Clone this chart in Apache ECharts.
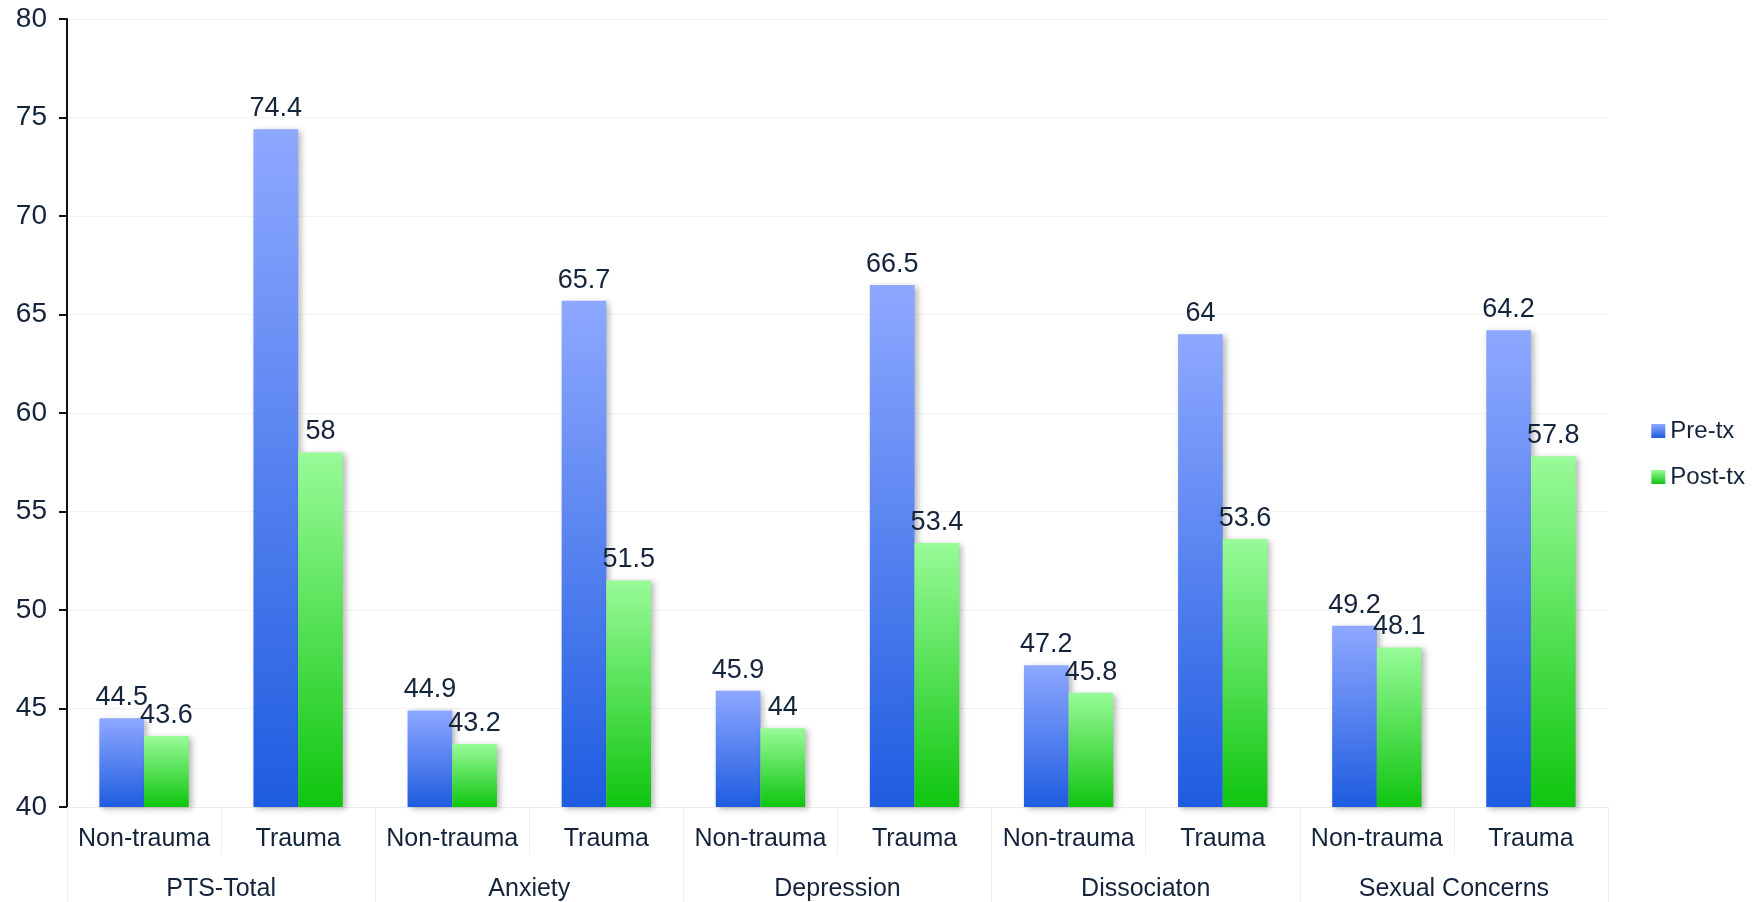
<!DOCTYPE html>
<html><head><meta charset="utf-8">
<script src="https://cdn.jsdelivr.net/npm/echarts@6/dist/echarts.min.js"></script>
<style>html,body{margin:0;padding:0;background:#fff}#c{width:1762px;height:902px}</style>
</head><body><div id="c"></div>
<script>
const subCategories = ["Non-trauma","Trauma","Non-trauma","Trauma","Non-trauma","Trauma","Non-trauma","Trauma","Non-trauma","Trauma"];
const groups = ["PTS-Total","Anxiety","Depression","Dissociaton","Sexual Concerns"];
const preTx = [44.5, 74.4, 44.9, 65.7, 45.9, 66.5, 47.2, 64, 49.2, 64.2];
const postTx = [43.6, 58, 43.2, 51.5, 44, 53.4, 45.8, 53.6, 48.1, 57.8];
const yTicks = {min: 40, max: 80, interval: 5};

const txt = '#14243b';
const font = 'Liberation Sans, Arial, sans-serif';
function grad(top, bottom){
  return new echarts.graphic.LinearGradient(0,0,0,1,[{offset:0,color:top},{offset:1,color:bottom}]);
}
const chart = echarts.init(document.getElementById('c'));
chart.setOption({
  animation: false,
  textStyle: {fontFamily: font},
  grid: {left: 67, right: 154, top: 19, bottom: 95},
  legend: {
    orient: 'vertical', right: 12, top: 414,
    itemWidth: 14, itemHeight: 14, itemGap: 22,
    icon: 'rect',
    textStyle: {fontSize: 24, color: txt, fontFamily: font},
    data: ['Pre-tx','Post-tx']
  },
  xAxis: [
    {type: 'category', data: subCategories, position: 'bottom',
     axisLine: {show: true, lineStyle: {color: '#ececec'}},
     axisTick: {show: true, interval: 0, length: 48, lineStyle: {color: '#eeeeee'}},
     axisLabel: {interval: 0, margin: 20, fontSize: 25, color: txt, fontFamily: font}},
    {type: 'category', data: groups, position: 'bottom',
     axisLine: {show: false},
     axisTick: {show: true, interval: 0, length: 95, lineStyle: {color: '#eeeeee'}},
     axisLabel: {interval: 0, margin: 70, fontSize: 25, color: txt, fontFamily: font}}
  ],
  yAxis: {
    type: 'value', min: yTicks.min, max: yTicks.max, interval: yTicks.interval,
    axisLine: {show: true, lineStyle: {color: '#111', width: 2}},
    axisTick: {show: true, length: 8, lineStyle: {color: '#111', width: 2}},
    axisLabel: {margin: 20, fontSize: 28, color: txt, fontFamily: font},
    splitLine: {lineStyle: {color: '#f3f3f3'}}
  },
  series: [
    {name: 'Pre-tx', type: 'bar', xAxisIndex: 0, data: preTx,
     barGap: '0%', barCategoryGap: '42%',
     itemStyle: {color: grad('#8ea8ff','#1e5ce0'), shadowBlur: 6, shadowOffsetX: 3, shadowOffsetY: 2, shadowColor: 'rgba(0,0,0,0.28)'},
     label: {show: true, position: 'top', distance: 7, fontSize: 27, color: txt, fontFamily: font}},
    {name: 'Post-tx', type: 'bar', xAxisIndex: 0, data: postTx,
     barGap: '0%', barCategoryGap: '42%',
     itemStyle: {color: grad('#98fb98','#0fc50f'), shadowBlur: 6, shadowOffsetX: 3, shadowOffsetY: 2, shadowColor: 'rgba(0,0,0,0.28)'},
     label: {show: true, position: 'top', distance: 7, fontSize: 27, color: txt, fontFamily: font}}
  ]
});
</script></body></html>
